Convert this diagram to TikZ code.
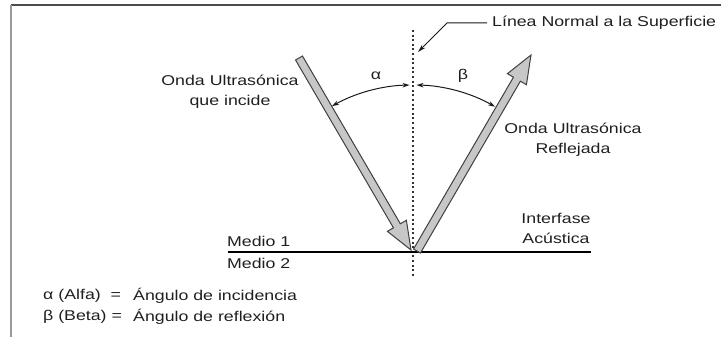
\documentclass[tikz,border=0pt]{standalone}
\usepackage{fontspec}
\setmainfont{Liberation Sans}[FakeStretch=1.25]
\usetikzlibrary{calc,arrows.meta}

\tikzset{
	txt/.style={font=\fontsize{14.2}{20}\selectfont, text=black!88, align=center, inner sep=0pt},
	angulo/.style={black!90, line width=1pt, {Stealth[length=7pt,width=4.5pt]}-{Stealth[length=7pt,width=4.5pt]}},
}

\newcommand{\ondaflecha}[2]{%
	\coordinate (#1-base) at ($(#2)!28pt!(#1)$);
	\draw[fill=black!22, draw=black!75, line width=1pt, line join=miter]
		($(#1)!4pt!90:(#2)$) -- ($(#1-base)!4pt!90:(#2)$) -- ($(#1-base)!11pt!90:(#2)$) -- (#2)
		-- ($(#1-base)!11pt!-90:(#2)$) -- ($(#1-base)!4pt!-90:(#2)$) -- ($(#1)!4pt!-90:(#2)$) -- cycle;
}

\begin{document}
\begin{tikzpicture}[x=1pt,y=-1pt]
			\useasboundingbox (0,0) rectangle (721,337);
			\draw[black!70, line width=1.5pt](11,5) -- (721,5);
			\draw[black!40, line width=2.5pt](11,5) -- (11,337);
			\coordinate (hit) at (413,251);
			\coordinate (inc-tail) at (299,58);
			\coordinate (inc-tip) at (411,250);
			\coordinate (ref-tail) at (417,251);
			\coordinate (ref-tip) at (531,55);
			\coordinate (normal-top) at (413,30);
			\coordinate (normal-bot) at (413,276);
			\coordinate (inter-izq) at (228,252);
			\coordinate (inter-der) at (591,252);
			\draw[black!80, line width=1.3pt, dash pattern=on 2pt off 2.6pt](normal-top) -- (normal-bot);
			\draw[black, line width=2.6pt](inter-izq) -- (inter-der);
			\ondaflecha{inc-tail}{inc-tip}
			\ondaflecha{ref-tail}{ref-tip}
			\draw[angulo]($(hit)+(-119.2:166)$) arc[start angle=-119.2, end angle=-91.2, radius=166];
			\draw[angulo]($(hit)+(-88.8:166)$) arc[start angle=-88.8, end angle=-60.4, radius=166];
			\node[txt] (alfa) at (376,76) {α};
			\node[txt] (beta) at (463,76) {β};
			\node[txt] (incidente) at (230,92) {Onda Ultrasónica\\que incide};
			\node[txt] (reflejada) at (573,140) {Onda Ultrasónica\\Reflejada};
			\node[txt] (interfase) at (556,228) {Interfase\\Acústica};
			\node[txt, anchor=west] (normal-txt) at (492,23) {Línea Normal a la Superficie};
			\node[txt, anchor=west] (medio1) at (227,241) {Medio 1};
			\node[txt, anchor=west] (medio2) at (227,263) {Medio 2};
			\coordinate (codo) at (447,23);
			\coordinate (pie) at (418,52);
			\draw[black!90, line width=1pt, shorten <=5pt, -{Stealth[length=8pt,width=4.5pt]}](normal-txt.west) -- (codo) -- (pie);
			\node[txt, anchor=west] (alfa-sim) at (43,296) {α (Alfa)\ \ =};
			\node[txt, anchor=west] (alfa-def) at (133,296) {Ángulo de incidencia};
			\node[txt, anchor=west] (beta-sim) at (43,317) {β (Beta) =};
			\node[txt, anchor=west] (beta-def) at (133,317) {Ángulo de reflexión};
		\end{tikzpicture}
\end{document}
